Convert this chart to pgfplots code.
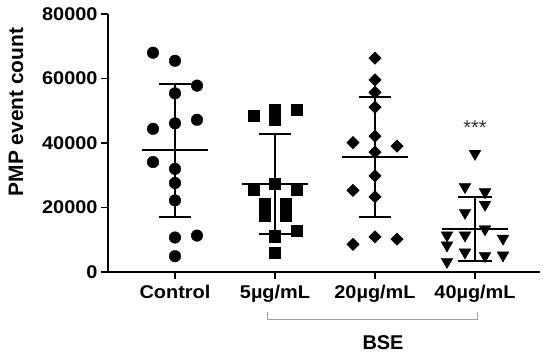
\documentclass[border=0pt]{standalone}
\usepackage{fontspec}
\setmainfont{Liberation Sans}
\newfontfamily\tickfont{Liberation Sans}[FakeStretch=1.08]
\usepackage{pgfplots}
\usepackage{pgfplotstable}
\pgfplotsset{compat=1.18}

\pgfplotstableread{
x y
-0.22 68000
0.00 65500
0.22 57800
0.00 55400
-0.22 44400
0.00 46100
0.22 47200
-0.22 34100
0.00 32000
0.00 27600
0.00 22200
0.00 10700
0.22 11300
0.00 4900
}\control
\pgfplotstableread{
x y
0.79 48500
1.00 50300
1.00 47200
1.22 50300
0.79 25500
1.00 27400
1.22 25500
0.90 21200
1.11 21200
0.90 17400
1.11 17400
1.00 11100
1.22 12700
1.00 6000
}\fivu
\pgfplotstableread{
x y
2.00 66300
2.00 59600
2.00 55700
2.00 51100
1.78 40100
2.00 42100
2.22 39000
2.00 37200
2.00 29800
1.78 25300
2.00 23300
1.78 8600
2.00 10900
2.22 10200
}\twentyu
\pgfplotstableread{
x y
3.00 36700
2.90 26400
3.10 24800
3.10 20900
2.90 18400
3.10 13300
2.72 11400
2.72 8300
2.72 3200
2.90 11400
2.90 6100
3.10 5000
3.28 10400
3.28 5200
}\fortyu

\begin{document}
\begin{tikzpicture}[x=1bp,y=1bp]
\useasboundingbox (-108,-83) rectangle (442,272);
\begin{axis}[
  scale only axis, width=432bp, height=258bp,
  xmin=-0.67, xmax=3.65, ymin=0, ymax=80000,
  axis x line=bottom, axis y line=left,
  axis line style={-, line width=1.8bp, black},
  xtick={0,1,2,3}, xticklabels={Control,5µg/mL,20µg/mL,40µg/mL},
  ytick={0,20000,40000,60000,80000},
  yticklabels={0,20000,40000,60000,80000},
  scaled y ticks=false,
  tick align=outside, major tick length=7bp,
  tick style={line width=1.8bp, black},
  ticklabel style={font=\tickfont\bfseries\fontsize{18.5}{18.5}\selectfont},
  xticklabel style={yshift=-3bp},
  ylabel={PMP event count},
  ylabel style={at={(axis description cs:-0.213,0.62)}, anchor=center,
    font=\bfseries\fontsize{21}{21}\selectfont},
  clip=false,
]
\addplot[only marks, mark=*, mark size=5.8bp, black] table[x=x,y=y] {\control};
\addplot[only marks, mark=square*, mark size=5.6bp, black] table[x=x,y=y] {\fivu};
\addplot[only marks, mark=square*, mark size=4.4bp, mark options={rotate=45}, black] table[x=x,y=y] {\twentyu};
\addplot[only marks, mark=triangle*, mark size=6.8bp, mark options={rotate=180}, black] table[x=x,y=y] {\fortyu};

% Control: mean 37700, SD 20600
\addplot[black, line width=2bp] coordinates {(-0.33,37700) (0.33,37700)};
\addplot[black, line width=2bp] coordinates {(0,17100) (0,58300)};
\addplot[black, line width=2bp] coordinates {(-0.16,17100) (0.16,17100)};
\addplot[black, line width=2bp] coordinates {(-0.16,58300) (0.16,58300)};
% 5 ug/mL: mean 27300, SD 15600
\addplot[black, line width=2bp] coordinates {(0.67,27300) (1.33,27300)};
\addplot[black, line width=2bp] coordinates {(1,11700) (1,42900)};
\addplot[black, line width=2bp] coordinates {(0.84,11700) (1.16,11700)};
\addplot[black, line width=2bp] coordinates {(0.84,42900) (1.16,42900)};
% 20 ug/mL: mean 35700, SD 18600
\addplot[black, line width=2bp] coordinates {(1.67,35700) (2.33,35700)};
\addplot[black, line width=2bp] coordinates {(2,17100) (2,54300)};
\addplot[black, line width=2bp] coordinates {(1.84,17100) (2.16,17100)};
\addplot[black, line width=2bp] coordinates {(1.84,54300) (2.16,54300)};
% 40 ug/mL: mean 13400, SD 9900
\addplot[black, line width=2bp] coordinates {(2.67,13400) (3.33,13400)};
\addplot[black, line width=2bp] coordinates {(3,3500) (3,23300)};
\addplot[black, line width=2bp] coordinates {(2.83,3500) (3.17,3500)};
\addplot[black, line width=2bp] coordinates {(2.83,23300) (3.17,23300)};

\node[anchor=north, inner sep=0pt, text=black!80, font=\fontsize{20}{20}\selectfont] at (axis cs:3,47000) {***};
\draw[gray!75, line width=1bp] (axis cs:0.92,-12270) -- (axis cs:0.92,-14600) -- (axis cs:3.02,-14600) -- (axis cs:3.02,-12270);
\node[font=\bfseries\fontsize{20}{20}\selectfont] at (axis cs:2.08,-21900) {BSE};
\end{axis}
\end{tikzpicture}
\end{document}
